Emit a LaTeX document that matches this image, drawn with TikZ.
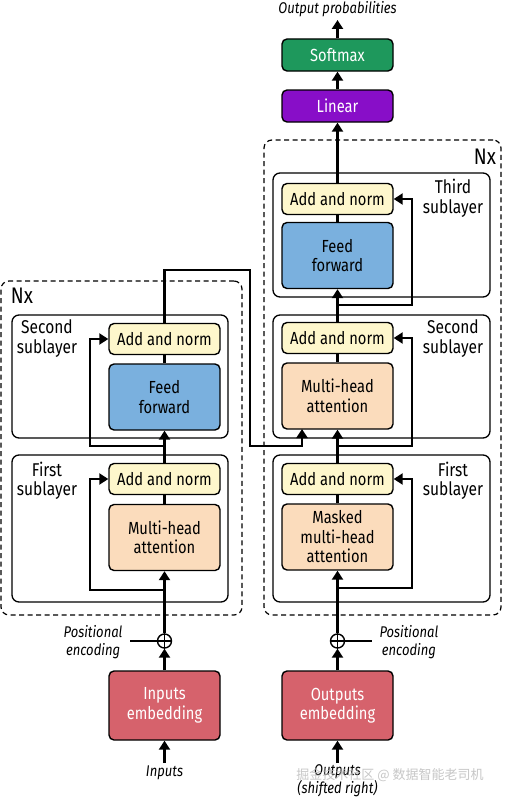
\documentclass[tikz,border=0pt]{standalone}
\usepackage{fontspec}
\setmainfont{Fira Sans}[FakeStretch=0.84]
\newfontfamily\cjkfont{Noto Sans CJK SC}
\usetikzlibrary{arrows.meta}
\definecolor{anfill}{RGB}{254,247,204}
\definecolor{fffill}{RGB}{122,176,222}
\definecolor{mhfill}{RGB}{251,220,188}
\definecolor{embfill}{RGB}{214,98,108}
\definecolor{smfill}{RGB}{30,152,92}
\definecolor{linfill}{RGB}{136,14,200}
\tikzset{
  box/.style={draw, line width=1.4pt, rounded corners=5pt, minimum width=111pt, align=center, inner sep=0pt, font=\fontsize{17.5}{19.5}\selectfont},
  anbox/.style={box, fill=anfill, minimum height=31pt},
  ffbox/.style={box, fill=fffill, minimum height=66pt},
  mhbox/.style={box, fill=mhfill, minimum height=66pt},
  embbox/.style={box, fill=embfill, text=white, minimum height=69pt},
  topbox/.style={box, text=white, minimum height=32pt},
  sublayerbox/.style={draw, line width=1.3pt, rounded corners=7pt, inner sep=0pt},
  stackbox/.style={draw, line width=1.2pt, dash pattern=on 5pt off 3.5pt, rounded corners=8pt, inner sep=0pt},
  conn/.style={line width=2.3pt},
  arr/.style={conn, -{Triangle[length=9pt,width=11pt]}},
  lbl/.style={align=center, font=\fontsize{18.5}{19.5}\selectfont},
  itl/.style={align=center, font=\fontsize{15.5}{18}\selectfont\itshape},
  nx/.style={font=\fontsize{22.5}{24}\selectfont},
  plus/.style={circle, draw, line width=1.4pt, minimum size=14pt, inner sep=0pt}
}
\begin{document}
\begin{tikzpicture}[x=1pt,y=-1pt]
\useasboundingbox[fill=white] (0,0) rectangle (504,800);
% stacks
\node[stackbox, minimum width=241pt, minimum height=334pt] (encStack) at (121.5,448) {};
\node[stackbox, minimum width=237pt, minimum height=475pt] (decStack) at (382.5,377.5) {};
\node[nx] (encNx) at (22,296) {Nx};
\node[nx] (decNx) at (485,157) {Nx};
% sublayer boxes
\node[sublayerbox, minimum width=216pt, minimum height=123pt] (encSub2) at (120,376.5) {};
\node[sublayerbox, minimum width=216pt, minimum height=147pt] (encSub1) at (120,528.5) {};
\node[sublayerbox, minimum width=217pt, minimum height=124pt] (decSub3) at (381.5,235) {};
\node[sublayerbox, minimum width=217pt, minimum height=123pt] (decSub2) at (381.5,376.5) {};
\node[sublayerbox, minimum width=217pt, minimum height=147pt] (decSub1) at (381.5,528.5) {};
\node[lbl] (encL2) at (47,338.5) {Second\\sublayer};
\node[lbl] (encL1) at (47,480.5) {First\\sublayer};
\node[lbl] (decL3) at (453,198.5) {Third\\sublayer};
\node[lbl] (decL2) at (453,338.5) {Second\\sublayer};
\node[lbl] (decL1) at (453,480.5) {First\\sublayer};
% encoder components
\node[anbox] (encAN2) at (164.5,339) {Add and norm};
\node[ffbox] (encFF) at (164.5,397) {Feed\\forward};
\node[anbox] (encAN1) at (164.5,479) {Add and norm};
\node[mhbox] (encMHA) at (164.5,537.5) {Multi-head\\attention};
\node[plus] (encPlus) at (164.5,641) {};
\node[embbox] (encEmb) at (164.5,705.5) {Inputs\\embedding};
\node[itl, anchor=east] (encPos) at (126,642) {Positional\\encoding};
\node[itl] (inputs) at (164.5,773) {Inputs};
% decoder components
\node[topbox, fill=smfill] (softmax) at (337.5,55) {Softmax};
\node[topbox, fill=linfill] (linear) at (337.5,106) {Linear};
\node[itl] (outprob) at (337.5,9) {Output probabilities};
\node[anbox] (decAN3) at (337.5,199) {Add and norm};
\node[ffbox] (decFF) at (337.5,255.5) {Feed\\forward};
\node[anbox] (decAN2) at (337.5,338) {Add and norm};
\node[mhbox] (decMHA) at (337.5,396) {Multi-head\\attention};
\node[anbox] (decAN1) at (337.5,479) {Add and norm};
\node[mhbox] (decMMHA) at (337.5,537) {Masked\\multi-head\\attention};
\node[plus] (decPlus) at (337.5,641) {};
\node[embbox] (decEmb) at (337.5,705.5) {Outputs\\embedding};
\node[itl, anchor=west] (decPos) at (376,642) {Positional\\encoding};
\node[itl] (outputs) at (337.5,781) {Outputs\\(shifted right)};
% plus signs
\draw[line width=1.4pt] (encPlus.north) -- (encPlus.south) (encPlus.west) -- (encPlus.east);
\draw[line width=1.4pt] (decPlus.north) -- (decPlus.south) (decPlus.west) -- (decPlus.east);
% coordinates
\coordinate (encPosEnd) at (130,641);
\coordinate (decPosEnd) at (372,641);
\coordinate (inTail) at (164.5,763);
\coordinate (outTail) at (337.5,763);
\coordinate (encR1a) at (164.5,590);
\coordinate (encR1b) at (90,590);
\coordinate (encR1c) at (90,479);
\coordinate (encR2a) at (164.5,446);
\coordinate (encR2b) at (90,446);
\coordinate (encR2c) at (90,339);
\coordinate (encOutA) at (164.5,270);
\coordinate (encOutB) at (250,270);
\coordinate (encOutC) at (250,446);
\coordinate (encOutD) at (302,446);
\coordinate (encOutE) at (302,429);
\coordinate (decR1a) at (337.5,588);
\coordinate (decR1b) at (412,588);
\coordinate (decR1c) at (412,479);
\coordinate (decR2a) at (337.5,446);
\coordinate (decR2b) at (412,446);
\coordinate (decR2c) at (412,338);
\coordinate (decR3a) at (337.5,305);
\coordinate (decR3b) at (412,305);
\coordinate (decR3c) at (412,199);
\coordinate (probTip) at (337.5,20);
% encoder connectors
\draw[arr] (inTail) -- (encEmb.south);
\draw[arr] (encEmb.north) -- (encPlus.south);
\draw[conn] (encPlus.west) -- (encPosEnd);
\draw[arr] (encPlus.north) -- (encMHA.south);
\draw[arr] (encR1a) -- (encR1b) -- (encR1c) -- (encAN1.west);
\draw[conn] (encMHA.north) -- (encAN1.south);
\draw[arr] (encAN1.north) -- (encFF.south);
\draw[arr] (encR2a) -- (encR2b) -- (encR2c) -- (encAN2.west);
\draw[conn] (encFF.north) -- (encAN2.south);
\draw[arr] (encAN2.north) -- (encOutA) -- (encOutB) -- (encOutC) -- (encOutD) -- (encOutE);
% decoder connectors
\draw[arr] (outTail) -- (decEmb.south);
\draw[arr] (decEmb.north) -- (decPlus.south);
\draw[conn] (decPlus.east) -- (decPosEnd);
\draw[arr] (decPlus.north) -- (decMMHA.south);
\draw[arr] (decR1a) -- (decR1b) -- (decR1c) -- (decAN1.east);
\draw[conn] (decMMHA.north) -- (decAN1.south);
\draw[arr] (decAN1.north) -- (decMHA.south);
\draw[arr] (decR2a) -- (decR2b) -- (decR2c) -- (decAN2.east);
\draw[conn] (decMHA.north) -- (decAN2.south);
\draw[arr] (decAN2.north) -- (decFF.south);
\draw[arr] (decR3a) -- (decR3b) -- (decR3c) -- (decAN3.east);
\draw[conn] (decFF.north) -- (decAN3.south);
\draw[arr] (decAN3.north) -- (linear.south);
\draw[arr] (linear.north) -- (softmax.south);
\draw[arr] (softmax.north) -- (probTip);
% watermark
\node[font=\fontsize{13}{15}\selectfont\cjkfont, text=gray!55, opacity=0.8] (wm) at (390,775) {掘金技术社区 @ 数据智能老司机};
\end{tikzpicture}
\end{document}
